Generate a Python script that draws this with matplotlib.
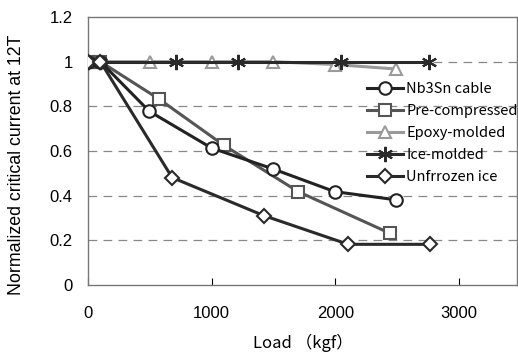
import numpy as np
import matplotlib
matplotlib.use("Agg")
import matplotlib.pyplot as plt

plt.rcParams['font.family'] = 'Liberation Sans'

# data
nb3sn_x = [0, 100, 495, 1000, 1495, 1995, 2495]
nb3sn_y = [1.0, 1.0, 0.778, 0.613, 0.52, 0.418, 0.381]

pre_x = [0, 100, 573, 1100, 1700, 2440]
pre_y = [1.0, 1.0, 0.833, 0.625, 0.418, 0.232]

epoxy_x = [0, 100, 500, 1000, 1495, 2000, 2495]
epoxy_y = [1.0, 1.0, 1.0, 1.0, 1.0, 0.987, 0.967]

ice_x = [0, 100, 710, 1210, 2045, 2755]
ice_y = [1.0, 1.0, 1.0, 1.0, 1.0, 1.0]

unfr_x = [0, 100, 680, 1420, 2105, 2765]
unfr_y = [1.0, 1.0, 0.481, 0.311, 0.182, 0.182]

fig = plt.figure(figsize=(5.18, 3.54), dpi=100)
ax = fig.add_axes([0.170, 0.195, 0.828, 0.757])

for y in [0.2, 0.4, 0.6, 0.8, 1.0]:
    ax.axhline(y, color='#888888', lw=0.9, ls=(0, (7, 5)), zorder=0)

ax.plot(epoxy_x, epoxy_y, color='#9a9a9a', lw=2.2, marker='^', ms=9,
        mfc='white', mec='#9a9a9a', mew=1.5, label='Epoxy-molded', zorder=2)
ax.plot(pre_x, pre_y, color='#555555', lw=2.2, marker='s', ms=9,
        mfc='white', mec='#555555', mew=1.5, label='Pre-compressed', zorder=3)
ax.plot(nb3sn_x, nb3sn_y, color='#222222', lw=2.2, marker='o', ms=9,
        mfc='white', mec='#222222', mew=1.5, label='Nb3Sn cable', zorder=4)
ax.plot(ice_x, ice_y, color='#2a2a2a', lw=2.2, marker=(6, 2, 0), ms=11,
        mec='#2a2a2a', mew=1.5, label='Ice-molded', zorder=3)
ax.plot(unfr_x, unfr_y, color='#2a2a2a', lw=2.2, marker='D', ms=7.5,
        mfc='white', mec='#2a2a2a', mew=1.5, label='Unfrrozen ice', zorder=5)

ax.set_xlim(0, 3470)
ax.set_ylim(0, 1.2)
ax.set_xticks([0, 1000, 2000, 3000])
ax.set_yticks([0, 0.2, 0.4, 0.6, 0.8, 1.0, 1.2])
ax.set_yticklabels(['0', '0.2', '0.4', '0.6', '0.8', '1', '1.2'])
ax.tick_params(axis='x', direction='in', length=5, pad=15, labelsize=12)
ax.tick_params(axis='y', length=0, pad=11, labelsize=12)
for s in ax.spines.values():
    s.set_color('#777777')
    s.set_linewidth(1.0)

ax.set_xlabel('Load （kgf）', fontsize=12, labelpad=9,
              family=['Noto Sans CJK JP', 'DejaVu Sans'])
ax.set_ylabel('Normalized critical current at 12T', fontsize=12.8)
ax.yaxis.set_label_coords(-0.147, 0.45)

h, l = ax.get_legend_handles_labels()
order = [l.index(n) for n in ['Nb3Sn cable', 'Pre-compressed', 'Epoxy-molded', 'Ice-molded', 'Unfrrozen ice']]
ax.legend([h[i] for i in order], [l[i] for i in order], loc='upper left',
          bbox_to_anchor=(0.65, 0.757), frameon=False,
          prop={'family': ['Noto Sans CJK JP', 'DejaVu Sans'], 'size': 10.5},
          handlelength=2.45, handletextpad=0.25, labelspacing=0.54,
          borderpad=0, borderaxespad=0)

fig.savefig('out.png', dpi=100)
